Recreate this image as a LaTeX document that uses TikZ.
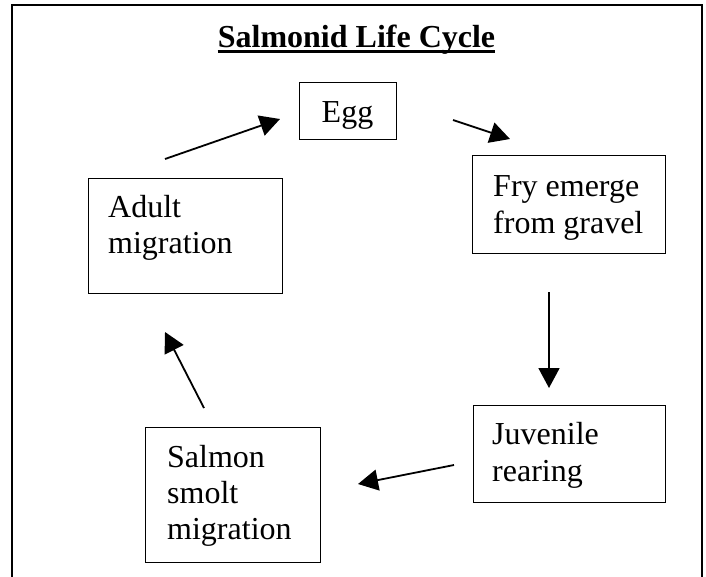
\documentclass[tikz,border=0pt]{standalone}
\usepackage{fontspec}
\setmainfont{Liberation Serif}
\usetikzlibrary{arrows.meta}
\begin{document}
\begin{tikzpicture}[x=1pt,y=-1pt,
  box/.style={draw,line width=1.4pt,inner sep=0pt,anchor=north west},
  txt/.style={inner sep=0pt,anchor=base west,font=\fontsize{32}{36}\selectfont},
  flow/.style={line width=1.8pt,-{Triangle[length=20pt,width=21pt]}}]
\useasboundingbox (0,0) rectangle (706,576);
% outer frame (open at the bottom edge of the picture)
\draw[line width=2.5pt] (12,582) -- (12,5) -- (702,5) -- (702,582);
% title
\node[inner sep=0pt,anchor=base,font=\fontsize{32}{36}\selectfont\bfseries] (title) at (356.5,47) {Salmonid Life Cycle};
\draw[line width=3pt] ([yshift=-4pt]title.base west) -- ([yshift=-4pt]title.base east);
% boxes
\node[box,minimum width=97pt,minimum height=57pt] (egg) at (299,82) {};
\node[box,minimum width=193pt,minimum height=98pt] (fry) at (472,155) {};
\node[box,minimum width=194pt,minimum height=115pt] (adult) at (88,178) {};
\node[box,minimum width=192pt,minimum height=97pt] (juv) at (473,405) {};
\node[box,minimum width=175pt,minimum height=135pt] (smolt) at (145,427) {};
% texts
\node[txt,anchor=base] (eggt) at (347.5,122) {Egg};
\node[txt] (fry1) at (493,196) {Fry emerge};
\node[txt] (fry2) at (493,233) {from gravel};
\node[txt] (adult1) at (108,217) {Adult};
\node[txt] (adult2) at (108,253) {migration};
\node[txt] (juv1) at (492,444) {Juvenile};
\node[txt] (juv2) at (492,481) {rearing};
\node[txt] (smolt1) at (167,467) {Salmon};
\node[txt] (smolt2) at (167,503) {smolt};
\node[txt] (smolt3) at (167,539) {migration};
% connector end points
\coordinate (a1) at (165,159); \coordinate (b1) at (280,119);
\coordinate (a2) at (453,120); \coordinate (b2) at (510,139);
\coordinate (a3) at (549,292); \coordinate (b3) at (549,388);
\coordinate (a4) at (454,465); \coordinate (b4) at (358,484);
\coordinate (a5) at (204,408); \coordinate (b5) at (165,332);
% connectors
\draw[flow] (a1) -- (b1);
\draw[flow] (a2) -- (b2);
\draw[flow] (a3) -- (b3);
\draw[flow] (a4) -- (b4);
\draw[flow] (a5) -- (b5);
\end{tikzpicture}
\end{document}
